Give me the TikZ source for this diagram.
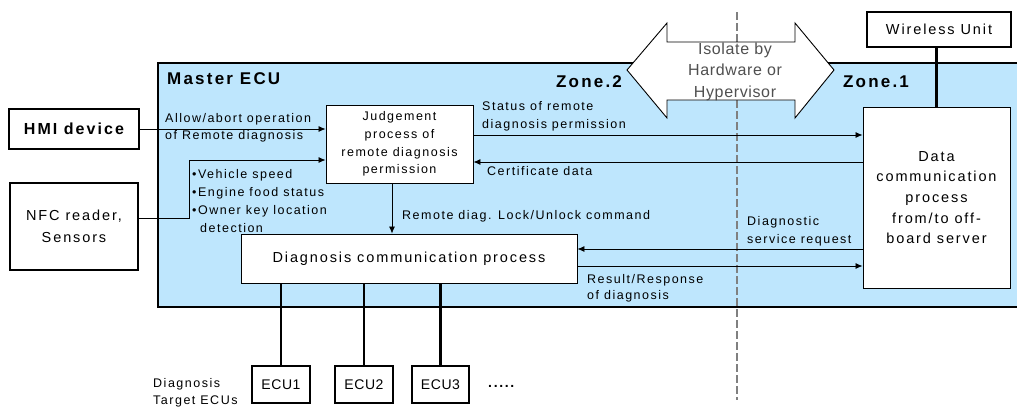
\documentclass[tikz,border=0pt]{standalone}
\usepackage{fontspec}
\setmainfont{Liberation Sans}
\newfontfamily\lab{Liberation Sans}[LetterSpace=12]
\newfontfamily\boxl{Liberation Sans}[LetterSpace=13]
\newfontfamily\labb{Liberation Sans}[LetterSpace=13]
\newfontfamily\gry{Liberation Sans}[LetterSpace=4]
\usetikzlibrary{arrows.meta,calc}
\definecolor{ecublue}{RGB}{190,230,253}
\definecolor{dashgray}{RGB}{128,128,128}
\definecolor{isogray}{RGB}{80,80,80}
\begin{document}
\begin{tikzpicture}[x=1pt,y=-1pt,
  thickbox/.style={draw, line width=2.4pt, fill=white, inner sep=0pt, align=center},
  thinbox/.style={draw, line width=0.9pt, fill=white, inner sep=0pt, align=center},
  arr/.style={line width=0.8pt, -{Latex[length=7pt,width=6pt]}},
  bus/.style={line width=2.6pt},
  boxfont/.style={font=\boxl\fontsize{14.5}{20.7}\selectfont},
  smallfont/.style={font=\lab\fontsize{12.5}{17.7}\selectfont},
  lbl/.style={font=\lab\fontsize{12.5}{14}\selectfont, anchor=mid west, inner sep=0pt},
  bigb/.style={font=\labb\bfseries\fontsize{17}{19}\selectfont, inner sep=0pt},
  ecufont/.style={font=\gry\fontsize{14}{16}\selectfont}
]
\useasboundingbox (0,0) rectangle (1017,408);
\clip (0,0) rectangle (1017,408);

% Master ECU container
\node[draw, line width=2.4pt, fill=ecublue, minimum width=872pt, minimum height=244pt, inner sep=0pt] (master) at (594,185) {};

% isolation line
\draw[dashgray, line width=2.6pt, dash pattern=on 8pt off 3pt] (737,12) coordinate (dtop) -- (737,400) coordinate (dbot);

% isolate double arrow
\draw[line width=0.9pt, fill=white] (627,70) -- (667,23) -- (667,42) -- (795,42) -- (795,23) -- (834,70) -- (795,118) -- (795,100) -- (667,100) -- (667,118) -- cycle;
\node[font=\gry\fontsize{16}{21.5}\selectfont, text=isogray, align=center, inner sep=0pt] (iso) at (735,71.5) {Isolate by\\Hardware or\\Hypervisor};

% labels of zones
\node[bigb, anchor=mid west] (mecu) at (167,82) {Master ECU};
\node[bigb] (z2) at (589,82) {Zone.2};
\node[bigb] (z1) at (876,82) {Zone.1};

% boxes
\node[thickbox, minimum width=130pt, minimum height=40pt, bigb, font=\labb\bfseries\fontsize{16}{19}\selectfont] (hmi) at (74,129) {HMI device};
\node[thickbox, minimum width=128pt, minimum height=87pt, font=\boxl\fontsize{14.5}{21.5}\selectfont] (nfc) at (74,226.5) {NFC reader,\\Sensors};
\node[thinbox, minimum width=147pt, minimum height=78pt, smallfont] (judge) at (399.5,144) {Judgement\\process of\\remote diagnosis\\permission};
\node[thinbox, minimum width=336pt, minimum height=49pt, boxfont] (diag) at (409,258.5) {Diagnosis communication process};
\node[thinbox, minimum width=147pt, minimum height=181pt, boxfont] (data) at (936.5,197.5) {Data\\communication\\process\\from/to off-\\board server};
\node[thickbox, minimum width=144pt, minimum height=35pt, boxfont] (wu) at (939,29.5) {Wireless Unit};
\node[thickbox, minimum width=58pt, minimum height=37pt, ecufont] (ecu1) at (281,384.5) {ECU1};
\node[thickbox, minimum width=58pt, minimum height=37pt, ecufont] (ecu2) at (364,384.5) {ECU2};
\node[thickbox, minimum width=57pt, minimum height=37pt, ecufont] (ecu3) at (440.5,384.5) {ECU3};

% buses
\draw[bus] (wu.south -| data.north) -- (data.north);
\draw[bus] (ecu1.north) -- (ecu1.north |- diag.south);
\draw[bus] (ecu2.north) -- (ecu2.north |- diag.south);
\draw[bus] (ecu3.north) -- (ecu3.north |- diag.south);

% arrows
\draw[arr] (hmi.east) -- (hmi.east -| judge.west);
\draw[arr] ($(nfc.east)+(0,-8.5)$) -- ++(50,0) |- ($(judge.west)+(0,16)$);
\draw[arr] ($(judge.east)+(0,-9)$) coordinate (s1) -- (s1 -| data.west);
\path ($(judge.east)+(0,18)$) coordinate (c1);
\draw[arr] (c1 -| data.west) -- (c1);
\draw[arr] ($(judge.south)+(-7.5,0)$) coordinate (r1) -- (r1 |- diag.north);
\path ($(diag.east)+(0,-9.5)$) coordinate (d1);
\draw[arr] (d1 -| data.west) -- (d1);
\draw[arr] ($(diag.east)+(0,7.5)$) coordinate (d2) -- (d2 -| data.west);

% connector labels
\node[lbl] (l1) at (165,120) {Allow/abort operation};
\node[lbl] (l2) at (165,137) {of Remote diagnosis};
\node[lbl] (b1) at (192,176) {•Vehicle speed};
\node[lbl] (b2) at (192,194) {•Engine food status};
\node[lbl] (b3) at (192,212) {•Owner key location};
\node[lbl] (b4) at (200,229.5) {detection};
\node[lbl] (s1l) at (482,108) {Status of remote};
\node[lbl] (s2l) at (482,126) {diagnosis permission};
\node[lbl] (cl) at (487,173) {Certificate data};
\node[lbl] (rl) at (402,217) {Remote diag. Lock/Unlock command};
\node[lbl] (dl1) at (747,223) {Diagnostic};
\node[lbl] (dl2) at (747,241) {service request};
\node[lbl] (rr1) at (587,281) {Result/Response};
\node[lbl] (rr2) at (587,297) {of diagnosis};
\node[lbl] (t1) at (153,385) {Diagnosis};
\node[lbl] (t2) at (153,402) {Target ECUs};
\node[lbl, font=\lab\bfseries\fontsize{14}{15}\selectfont] (dots) at (488,385) {.....};
\end{tikzpicture}
\end{document}
